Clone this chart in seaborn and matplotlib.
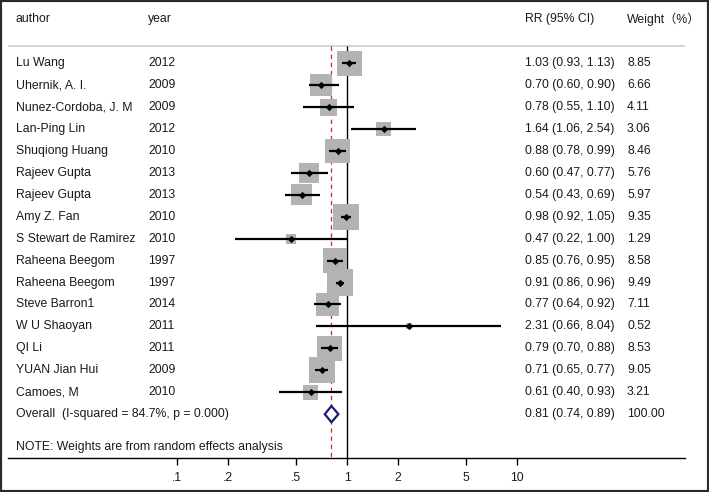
import numpy as np
import pandas as pd
import seaborn as sns
import matplotlib.pyplot as plt
import matplotlib.transforms as mtransforms
from matplotlib.patches import Rectangle

# Study data
authors = ["Lu Wang", "Uhernik, A. I.", "Nunez-Cordoba, J. M", "Lan-Ping Lin",
           "Shuqiong Huang", "Rajeev Gupta", "Rajeev Gupta", "Amy Z. Fan",
           "S Stewart de Ramirez", "Raheena Beegom", "Raheena Beegom",
           "Steve Barron1", "W U Shaoyan", "QI Li", "YUAN Jian Hui", "Camoes, M"]
years = [2012, 2009, 2009, 2012, 2010, 2013, 2013, 2010, 2010, 1997, 1997,
         2014, 2011, 2011, 2009, 2010]
rr = [1.03, 0.70, 0.78, 1.64, 0.88, 0.60, 0.54, 0.98, 0.47, 0.85, 0.91,
      0.77, 2.31, 0.79, 0.71, 0.61]
ci_low = [0.93, 0.60, 0.55, 1.06, 0.78, 0.47, 0.43, 0.92, 0.22, 0.76, 0.86,
          0.64, 0.66, 0.70, 0.65, 0.40]
ci_high = [1.13, 0.90, 1.10, 2.54, 0.99, 0.77, 0.69, 1.05, 1.00, 0.95, 0.96,
           0.92, 8.04, 0.88, 0.77, 0.93]
weights = [8.85, 6.66, 4.11, 3.06, 8.46, 5.76, 5.97, 9.35, 1.29, 8.58, 9.49,
           7.11, 0.52, 8.53, 9.05, 3.21]

overall_rr, overall_low, overall_high, overall_weight = 0.81, 0.74, 0.89, 100.00
overall_label = "Overall  (I-squared = 84.7%, p = 0.000)"
note_text = "NOTE: Weights are from random effects analysis"
headers = ["author", "year", "RR (95% CI)", "Weight（%）"]
xticks = [0.1, 0.2, 0.5, 1, 2, 5, 10]
xtick_labels = [".1", ".2", ".5", "1", "2", "5", "10"]

df = pd.DataFrame({"author": authors, "year": years, "rr": rr,
                   "low": ci_low, "high": ci_high, "weight": weights})
df["row"] = np.arange(len(df))
overall_row = len(df)

sns.set_theme(style="white")
plt.rcParams['font.family'] = ['Liberation Sans', 'Noto Sans CJK SC', 'DejaVu Sans']
fs = 8.8
txt_color = '#1a1a1a'

W, H = 709, 492
fig = plt.figure(figsize=(W / 100, H / 100), dpi=100)
fig.patch.set_facecolor('white')
ax = fig.add_axes([8 / W, 1 - 458 / H, 677 / W, 450 / H])
ax.set_xscale('log')
ax.set_xlim(10 ** ((8 - 347) / 170), 10 ** ((685 - 347) / 170))
ax.set_ylim(18.0, -2.52)

# reference lines
top_line = -0.8
ax.axhline(top_line, color='#cccccc', lw=1.2, zorder=1)
ax.vlines(1, top_line, 18, color='black', lw=1.0, zorder=1)
ax.vlines(overall_rr, top_line, 18, color='#c42a32', lw=0.9,
          linestyles=(0, (3.5, 3)), zorder=1)

# weight squares (area proportional to weight)
wmin, wmax = df["weight"].min(), df["weight"].max()
sns.scatterplot(data=df, x="rr", y="row", size="weight", marker='s',
                sizes=(37.5 * wmin, 37.5 * wmax), size_norm=(wmin, wmax),
                color='#b3b3b3', linewidth=0, legend=False, ax=ax, zorder=2)

# confidence intervals and point estimates
ax.hlines(df["row"], df["low"], df["high"], color='black', lw=1.6, zorder=3)
sns.scatterplot(data=df, x="rr", y="row", marker='D', s=14, color='black',
                linewidth=0, legend=False, ax=ax, zorder=4)

# overall diamond
ax.fill([overall_low, overall_rr, overall_high, overall_rr],
        [overall_row, overall_row - 0.37, overall_row, overall_row + 0.37],
        facecolor='white', edgecolor='#1c1c78', lw=1.6, zorder=4)

# text columns
trans = mtransforms.blended_transform_factory(fig.transFigure, ax.transData)
col_x = [16 / W, 148 / W, 525 / W, 627 / W]
for x, h in zip(col_x, headers):
    ax.text(x, -2, h, transform=trans, va='center', ha='left',
            fontsize=fs, color=txt_color)
for _, r in df.iterrows():
    ax.text(col_x[0], r["row"], r["author"], transform=trans, va='center',
            fontsize=fs, color=txt_color)
    ax.text(col_x[1], r["row"], str(r["year"]), transform=trans, va='center',
            fontsize=fs, color=txt_color)
    ax.text(col_x[2], r["row"], f"{r['rr']:.2f} ({r['low']:.2f}, {r['high']:.2f})",
            transform=trans, va='center', fontsize=fs, color=txt_color)
    ax.text(col_x[3], r["row"], f"{r['weight']:.2f}", transform=trans,
            va='center', fontsize=fs, color=txt_color)
ax.text(col_x[0], overall_row, overall_label, transform=trans, va='center',
        fontsize=fs, color=txt_color)
ax.text(col_x[2], overall_row,
        f"{overall_rr:.2f} ({overall_low:.2f}, {overall_high:.2f})",
        transform=trans, va='center', fontsize=fs, color=txt_color)
ax.text(col_x[3], overall_row, f"{overall_weight:.2f}", transform=trans,
        va='center', fontsize=fs, color=txt_color)
ax.text(col_x[0], 17.5, note_text, transform=trans, va='center',
        fontsize=fs, color=txt_color)

# axes styling
for s in ['top', 'left', 'right']:
    ax.spines[s].set_visible(False)
ax.spines['bottom'].set_color('black')
ax.spines['bottom'].set_linewidth(1.0)
ax.set_xticks(xticks)
ax.set_xticklabels(xtick_labels)
ax.minorticks_off()
ax.set_yticks([])
ax.set_xlabel('')
ax.set_ylabel('')
ax.tick_params(axis='x', direction='out', length=5, width=1, color='black',
               labelsize=fs, labelcolor=txt_color, pad=5, bottom=True)
ax.set_facecolor('none')
ax.grid(False)

# outer frame
fig.add_artist(Rectangle((0, 0), 1, 1, transform=fig.transFigure, fill=False,
                         lw=3, edgecolor='#2a2a2a'))

fig.savefig('out.png', dpi=100)
